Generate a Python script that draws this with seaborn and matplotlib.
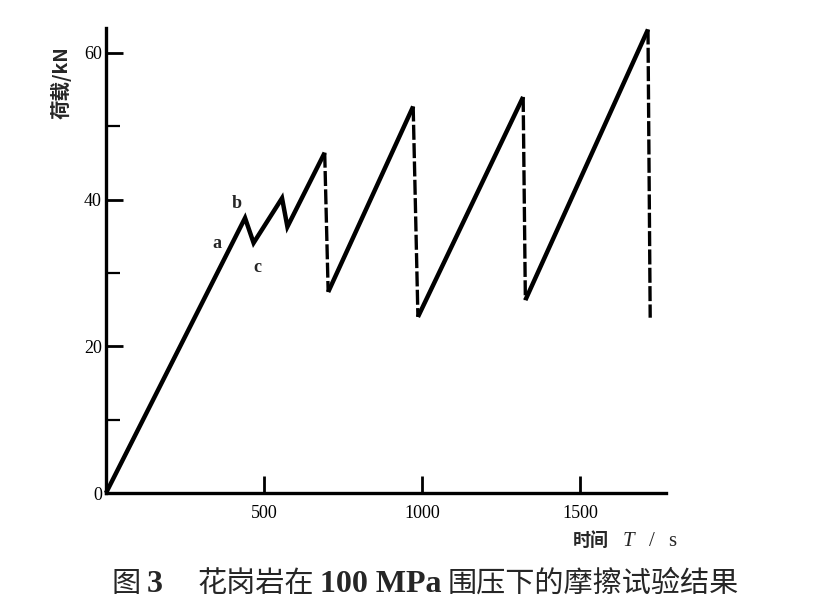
import matplotlib
matplotlib.use("Agg")
import matplotlib.pyplot as plt
import seaborn as sns
import pandas as pd

# ---- data ----
time_s = [0, 440, 467, 557, 574, 692, 703, 972, 987, 1320, 1327, 1715, 1722]
load_kN = [0, 37.5, 34.1, 40.2, 36.3, 46.4, 27.4, 52.7, 24.0, 54.0, 26.3, 63.2, 23.9]
# style of each segment between consecutive points
seg_style = ["solid", "solid", "solid", "solid", "solid", "dashed",
             "solid", "dashed", "solid", "dashed", "solid", "dashed"]

label_text = ["a", "b", "c"]
label_t = [352, 415, 480]
label_load = [34.0, 39.5, 30.8]

xticks = [500, 1000, 1500]
yticks_major = [0, 20, 40, 60]
yticks_minor = [10, 30, 50]

sns.set_theme(style="white")
plt.rcParams["font.family"] = ["Liberation Serif", "Noto Sans CJK SC", "DejaVu Sans"]

W, H = 824, 608
fig = plt.figure(figsize=(W / 100, H / 100), dpi=100)
ax = fig.add_axes([106 / W, 1 - 493 / H, (666 - 106) / W, (493 - 28) / H])

# build groups: consecutive solid segments merged, dashed segments separate
rows = []
gid = 0
prev = None
for i, st in enumerate(seg_style):
    if st == "dashed" or prev != "solid":
        gid += 1
        rows.append(dict(g=gid, t=time_s[i], load=load_kN[i], style=st))
    rows.append(dict(g=gid, t=time_s[i + 1], load=load_kN[i + 1], style=st))
    prev = st
    if st == "dashed":
        prev = None
df = pd.DataFrame(rows)

for g, sub in df.groupby("g"):
    st = sub["style"].iloc[0]
    ls = (0, (4.5, 1.0)) if st == "dashed" else "-"
    lw = 2.4 if st == "dashed" else 3.2
    sns.lineplot(data=sub, x="t", y="load", sort=False, estimator=None,
                 color="black", lw=lw, ax=ax, clip_on=False,
                 solid_joinstyle="miter", solid_capstyle="butt")
    ax.lines[-1].set_linestyle(ls)

for s, tx, ty in zip(label_text, label_t, label_load):
    ax.text(tx, ty, s, ha="center", va="center", fontsize=13,
            family=["Liberation Serif"], fontweight="bold")

ax.set_xlim(0, 1772)
ax.set_ylim(0, 63.4)
ax.set_xticks(xticks)
ax.set_xticklabels([str(v) for v in xticks])
ax.set_yticks(yticks_major)
ax.set_yticklabels([str(v) for v in yticks_major])
ax.set_yticks(yticks_minor, minor=True)
ax.set_xlabel("")
ax.set_ylabel("")

for side in ["top", "right"]:
    ax.spines[side].set_visible(False)
for side in ["left", "bottom"]:
    ax.spines[side].set_linewidth(2.4)
    ax.spines[side].set_color("black")

ax.tick_params(axis="x", which="major", direction="in", length=12, width=2.0,
               labelsize=13, pad=9, colors="black", bottom=True)
ax.tick_params(axis="y", which="major", direction="in", length=12, width=2.0,
               labelsize=13, pad=3, colors="black", left=True)
ax.tick_params(axis="y", which="minor", direction="in", length=10, width=1.6,
               left=True, colors="black")
ax.grid(False)

fig.canvas.draw()
renderer = fig.canvas.get_renderer()


def rich(x_px, base_px, pieces):
    x = x_px
    for s, kw, gap in pieces:
        t = fig.text(x / W, 1 - base_px / H, s, va="baseline", ha="left", **kw)
        w = t.get_window_extent(renderer).width
        x += w + gap


# y label (vertical)
fig.text(61 / W, 1 - 83 / H, "荷载/kN", rotation=90, ha="center", va="center",
         fontsize=14, fontweight="bold",
         family=["Noto Sans CJK SC", "Liberation Serif"])

# x label
rich(573, 546, [
    ("时间", dict(fontsize=13, fontweight="bold", family=["Noto Sans CJK SC"]), 14),
    ("T", dict(fontsize=15, style="italic", family=["Liberation Serif"]), 14),
    ("/", dict(fontsize=15, family=["Liberation Serif"]), 14),
    ("s", dict(fontsize=15, family=["Liberation Serif"]), 0),
])

# caption
cjk = ["Noto Sans CJK SC"]
serif = ["Liberation Serif"]
rich(112, 592, [
    ("图", dict(fontsize=21, family=cjk, fontweight="light"), 6),
    ("3", dict(fontsize=23, family=serif, fontweight="bold"), 34),
    ("花岗岩在", dict(fontsize=21, family=cjk, fontweight="light"), 6),
    ("100 MPa", dict(fontsize=23, family=serif, fontweight="bold"), 6),
    ("围压下的摩擦试验结果", dict(fontsize=21, family=cjk, fontweight="light"), 0),
])

fig.savefig("out.png", dpi=100, facecolor="white")
